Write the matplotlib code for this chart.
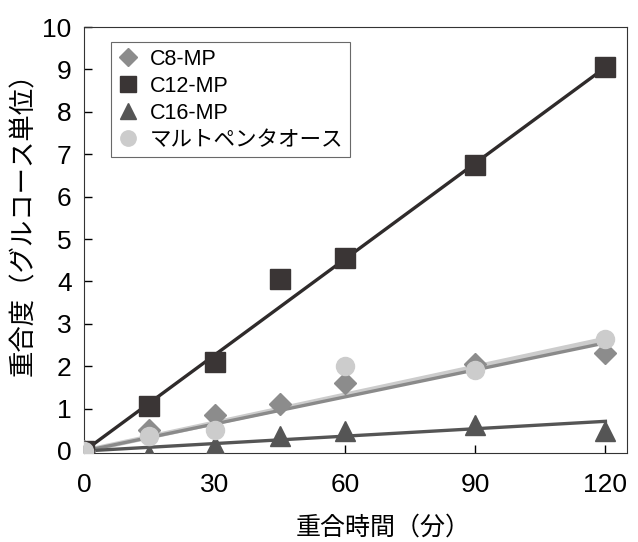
import numpy as np
import matplotlib
matplotlib.use("Agg")
import matplotlib.pyplot as plt

plt.rcParams['font.family'] = ['Liberation Sans', 'Noto Sans CJK JP']

# data
t = [0, 15, 30, 45, 60, 90, 120]
c8 = [0, 0.5, 0.85, 1.1, 1.6, 2.05, 2.3]
c12 = [0, 1.05, 2.1, 4.05, 4.55, 6.75, 9.05]
c16 = [0, -0.1, 0.12, 0.35, 0.47, 0.62, 0.47]
t_malto = [0, 15, 30, 60, 90, 120]
malto = [0, 0.35, 0.5, 2.0, 1.9, 2.65]

# fitted lines: value at 0 and at 120 min
fit_t = [0, 120]
fit_c8 = [0, 2.55]
fit_c12 = [0, 9.05]
fit_c16 = [0, 0.7]
fit_malto = [0, 2.64]

labels = ['C8-MP', 'C12-MP', 'C16-MP', 'マルトペンタオース']

fig = plt.figure(figsize=(6.38, 5.42), dpi=100)
ax = fig.add_axes([0.132, 0.164, 0.851, 0.786])

ax.plot(fit_t, fit_c12, color='#2f2b2b', lw=2.4, zorder=2)
ax.plot(fit_t, fit_malto, color='#cccccc', lw=3.6, zorder=2)
ax.plot(fit_t, fit_c8, color='#8a8a8a', lw=2.4, zorder=2)
ax.plot(fit_t, fit_c16, color='#555555', lw=2.4, zorder=2)

ax.plot(t, c8, 'D', color='#8c8c8c', ms=11, ls='none', label=labels[0], zorder=3)
ax.plot(t, c12, 's', color='#3a3535', ms=14, ls='none', label=labels[1], zorder=3)
ax.plot(t, c16, '^', color='#555555', ms=14, ls='none', label=labels[2], zorder=3)
ax.plot(t_malto, malto, 'o', color='#cccccc', ms=13, ls='none', label=labels[3], zorder=4)

ax.set_xlim(0, 125)
ax.set_ylim(-0.05, 10)
ax.set_xticks([0, 30, 60, 90, 120])
ax.set_yticks(range(11))
ax.tick_params(direction='in', length=6, width=1, labelsize=19)
ax.tick_params(axis='x', pad=14)
ax.tick_params(axis='y', pad=9)
ax.set_xlabel('重合時間（分）', fontsize=18, family=['Noto Sans CJK JP'], va='center')
ax.set_ylabel('重合度（グルコース単位）', fontsize=19, family=['Noto Sans CJK JP'], va='center')
ax.xaxis.set_label_coords(0.55, -0.174)
ax.yaxis.set_label_coords(-0.112, 0.552)
for s in ax.spines.values():
    s.set_color('#333333')

leg = ax.legend(loc='upper left', bbox_to_anchor=(0.03, 0.99),
                fancybox=False, edgecolor='#444444', handlelength=1.0,
                handletextpad=0.5, borderpad=0.3, labelspacing=0.28,
                markerscale=0.85,
                prop={'family': ['Liberation Sans', 'Noto Sans CJK JP'], 'size': 15.5})
leg.get_frame().set_linewidth(0.8)

fig.savefig('out.png', dpi=100)
